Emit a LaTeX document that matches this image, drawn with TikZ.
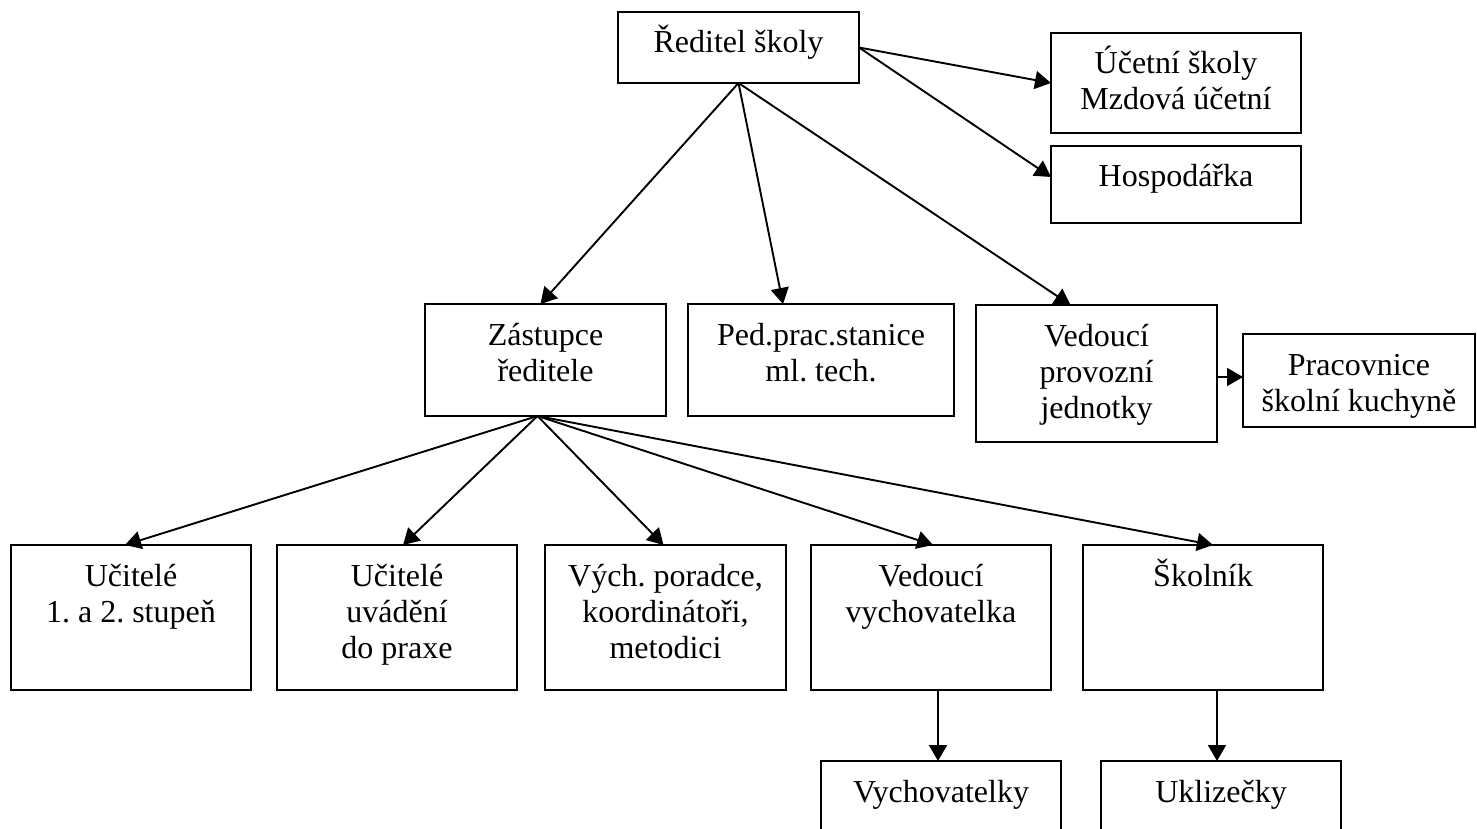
\documentclass[tikz,border=0pt]{standalone}
\usepackage{fontspec}
\setmainfont{Liberation Serif}
\frenchspacing
\usetikzlibrary{arrows.meta}
\tikzset{
  orgbox/.style={draw, line width=2pt, inner sep=0pt, outer sep=0pt},
  arr/.style={line width=1.9pt, -{Triangle[length=16pt,width=18pt]}},
}
\newcommand\orgnode[6]{%
  \pgfmathsetmacro\bw{#4-#2}%
  \pgfmathsetmacro\bh{#5-#3}%
  \node[orgbox] (#1) at ({(#2+#4)/2},{(#3+#5)/2})
    {\parbox[c][\bh pt][t]{\bw pt}{\centering\fontsize{32pt}{36pt}\selectfont\rule{0pt}{41pt}#6}};%
}
\begin{document}
\begin{tikzpicture}[x=1pt,y=-1pt]
\useasboundingbox (0,0) rectangle (1477,829);
% boxes
\orgnode{redit}{618}{12}{859}{83}{Ředitel školy}
\orgnode{ucet}{1051}{33}{1301}{133}{Účetní školy\\Mzdová účetní}
\orgnode{hosp}{1051}{146}{1301}{223}{Hospodářka}
\orgnode{zast}{425}{304}{666}{416}{Zástupce\\ředitele}
\orgnode{ped}{688}{304}{954}{416}{Ped.prac.stanice\\ml. tech.}
\orgnode{vedp}{976}{305}{1217}{442}{Vedoucí\\provozní\\jednotky}
\orgnode{prac}{1243}{334}{1475}{427}{Pracovnice\\školní kuchyně}
\orgnode{uca}{11}{545}{251}{690}{Učitelé\\1. a 2. stupeň}
\orgnode{ucb}{277}{545}{517}{690}{Učitelé\\uvádění\\do praxe}
\orgnode{vych}{545}{545}{786}{690}{Vých. poradce,\\koordinátoři,\\metodici}
\orgnode{vedv}{811}{545}{1051}{690}{Vedoucí\\vychovatelka}
\orgnode{skol}{1083}{545}{1323}{690}{Školník}
\orgnode{vychs}{821}{761}{1061}{900}{Vychovatelky}
\orgnode{ukl}{1101}{761}{1341}{900}{Uklizečky}
% connectors
\draw[arr] (redit.south) -- ([xshift=-5pt]zast.north);
\draw[arr] (redit.south) -- ([xshift=-38pt]ped.north);
\draw[arr] (redit.south) -- ([xshift=-26pt]vedp.north);
\draw[arr] (redit.east) -- (ucet.west);
\draw[arr] (redit.east) -- ([yshift=7.5pt]hosp.west);
\draw[arr] ([yshift=-3.5pt]vedp.east) -- ([yshift=3.5pt]prac.west);
\draw[arr] ([xshift=-8pt]zast.south) -- ([xshift=-6pt]uca.north);
\draw[arr] ([xshift=-8pt]zast.south) -- ([xshift=6pt]ucb.north);
\draw[arr] ([xshift=-8pt]zast.south) -- ([xshift=-2pt]vych.north);
\draw[arr] ([xshift=-8pt]zast.south) -- ([xshift=2pt]vedv.north);
\draw[arr] ([xshift=-8pt]zast.south) -- ([xshift=10pt]skol.north);
\draw[arr] ([xshift=7pt]vedv.south) -- ([xshift=7pt]vedv.south |- vychs.north);
\draw[arr] ([xshift=14pt]skol.south) -- ([xshift=14pt]skol.south |- ukl.north);
\end{tikzpicture}
\end{document}
